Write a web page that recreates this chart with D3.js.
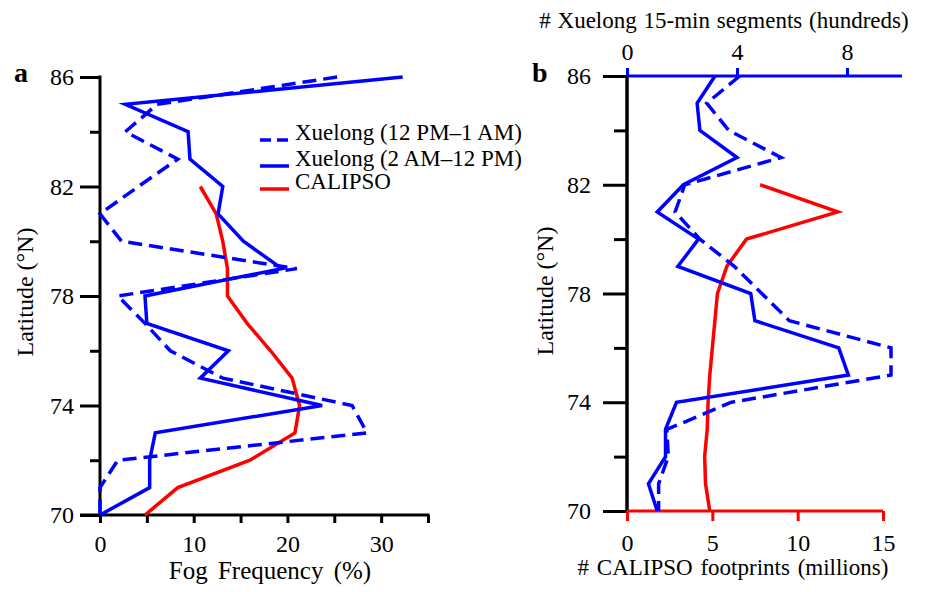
<!DOCTYPE html>
<html>
<head>
<meta charset="utf-8">
<script src="https://cdn.jsdelivr.net/npm/d3@7"></script>
<style>
  body { margin: 0; background: #fff; }
</style>
</head>
<body>
<div id="svg_container"></div>
<script>
/* -----------------------
data
------------------------- */

var lat = [86, 85, 84, 83, 82, 81, 80, 79, 78, 77, 76, 75, 74, 73, 72, 71, 70];

// panel a, fog frequency (%)
var fogNight = [25.3, 6.1, 2.7, 8.3, 4.1, 0, 2.3, 21.0, 1.9, 4.8, 7.5, 13.1, 26.9, 28.5, 1.9, 0, 0];
var fogDay = [32.3, 2.7, 9.4, 9.6, 13.1, 12.6, 15.3, 19.4, 4.8, 5.0, 13.7, 10.7, 23.7, 5.9, 5.3, 5.3, 0];
var calipsoLat = [82, 81, 80, 79, 78, 77, 76, 75, 74, 73, 72, 71, 70];
var fogCalipso = [10.7, 12.4, 13.1, 13.6, 13.6, 15.7, 18.2, 20.5, 21.3, 20.8, 16.0, 8.3, 4.8];

// panel b, sample counts
var segNight = [4.1, 2.9, 3.7, 5.6, 2.1, 1.75, 2.65, 3.9, 4.9, 5.9, 9.6, 9.6, 3.8, 1.45, 1.5, 1.15, 1.15]; // hundreds
var segDay = [3.2, 2.55, 2.65, 4.0, 2.05, 1.1, 2.6, 1.85, 4.5, 4.65, 7.7, 8.05, 1.8, 1.4, 1.4, 0.78, 1.1];
var footprints = [7.8, 12.35, 7.0, 5.85, 5.3, 5.15, 5.0, 4.85, 4.75, 4.7, 4.55, 4.6, 4.85]; // millions

var legendLabels = ["Xuelong (12 PM\u20131 AM)", "Xuelong (2 AM\u201312 PM)", "CALIPSO"];

var latMajor = [70, 74, 78, 82, 86];
var latMinor = [72, 76, 80, 84];
var fogTicks = [0, 5, 10, 15, 20, 25, 30, 35];
var segTicks = [0, 4, 8];
var fpTicks = [0, 5, 10, 15];

/* -----------------------
main variables
------------------------- */

var width = 931, height = 592;
var blue = "#0000ff", red = "#ff0000";
var lw = 3.5;
var serif = "'Liberation Serif', 'Times New Roman', Times, serif";

var svg = d3.select("#svg_container")
	.append("svg")
	.attr("width", width)
	.attr("height", height)
	.style("font-family", serif);

function zip(ys, xs) {
	return xs.map(function(v, i) { return {lat: ys[i], v: v}; });
}

function styleAxis(g, color, size) {
	g.attr("font-family", null);
	g.select(".domain").remove();
	g.selectAll("line").attr("stroke", color).attr("stroke-width", 3);
	g.selectAll("text").attr("font-size", size || 24).attr("fill", "#000")
		.style("font-family", serif);
}

function label(g, t) {
	return g.append("text").style("font-family", serif).attr("fill", "#000").text(t);
}

/* -----------------------
panel a
------------------------- */

var xA = d3.scaleLinear().domain([0, 35]).range([100, 428]);
var yA = d3.scaleLinear().domain([70, 86]).range([515, 77]);

var a = svg.append("g").attr("id", "panel_a");

a.append("g")
	.attr("transform", "translate(" + xA(0) + ",0)")
	.call(d3.axisLeft(yA).tickValues(latMajor).tickSize(20).tickPadding(6))
	.call(styleAxis, "#000");
a.append("g")
	.attr("transform", "translate(" + xA(0) + ",0)")
	.call(d3.axisLeft(yA).tickValues(latMinor).tickSize(10).tickFormat(""))
	.call(styleAxis, "#000");
a.append("g")
	.attr("transform", "translate(0," + yA(70) + ")")
	.call(d3.axisBottom(xA).tickValues(fogTicks).tickSize(8).tickPadding(12)
		.tickFormat(function(d) { return d % 10 === 0 ? d : ""; }))
	.call(styleAxis, "#000");

a.append("line")
	.attr("x1", xA(0)).attr("x2", xA(0))
	.attr("y1", yA(86) - 1.5).attr("y2", yA(70) + 1.5)
	.attr("stroke", "#000").attr("stroke-width", 3);
a.append("line")
	.attr("x1", xA(0) - 20).attr("x2", xA(35) + 1.5)
	.attr("y1", yA(70)).attr("y2", yA(70))
	.attr("stroke", "#000").attr("stroke-width", 3);

var lineA = d3.line().x(function(d) { return xA(d.v); }).y(function(d) { return yA(d.lat); });

a.append("path").datum(zip(calipsoLat, fogCalipso))
	.attr("d", lineA).attr("fill", "none").attr("stroke", red).attr("stroke-width", lw);
a.append("path").datum(zip(lat, fogDay))
	.attr("d", lineA).attr("fill", "none").attr("stroke", blue).attr("stroke-width", lw);
a.append("path").datum(zip(lat, fogNight))
	.attr("d", lineA).attr("fill", "none").attr("stroke", blue).attr("stroke-width", lw)
	.attr("stroke-dasharray", "14,7");

// legend
var legend = a.append("g").attr("class", "legend");
var legendY = [140, 166, 189];
legendLabels.forEach(function(t, i) {
	legend.append("line")
		.attr("x1", 260).attr("x2", 289)
		.attr("y1", legendY[i]).attr("y2", legendY[i])
		.attr("stroke", i === 2 ? red : blue).attr("stroke-width", lw)
		.attr("stroke-dasharray", i === 0 ? "11,6" : null);
	label(legend, t)
		.attr("x", 295).attr("y", legendY[i])
		.attr("font-size", 23);
});

label(a, "a").attr("x", 14).attr("y", 82)
	.attr("font-size", 28).attr("font-weight", "bold");
label(a, "Latitude (\u00b0N)")
	.attr("transform", "translate(33,292) rotate(-90)")
	.attr("text-anchor", "middle").attr("font-size", 24);
label(a, "Fog Frequency (%)").attr("x", 270).attr("y", 579)
	.attr("text-anchor", "middle").attr("font-size", 25).attr("word-spacing", 4);

/* -----------------------
panel b
------------------------- */

var yB = d3.scaleLinear().domain([70, 86]).range([511, 76]);
var xTop = d3.scaleLinear().domain([0, 10]).range([627, 902]);
var xBot = d3.scaleLinear().domain([0, 15]).range([627, 883]);

var b = svg.append("g").attr("id", "panel_b");

b.append("g")
	.attr("transform", "translate(" + xTop(0) + ",0)")
	.call(d3.axisLeft(yB).tickValues(latMajor).tickSize(24).tickPadding(12))
	.call(styleAxis, "#000");
b.append("g")
	.attr("transform", "translate(" + xTop(0) + ",0)")
	.call(d3.axisLeft(yB).tickValues(latMinor).tickSize(13).tickFormat(""))
	.call(styleAxis, "#000");
b.append("line")
	.attr("x1", xTop(0)).attr("x2", xTop(0))
	.attr("y1", yB(86)).attr("y2", yB(70))
	.attr("stroke", "#000").attr("stroke-width", 3.5);

b.append("g")
	.attr("transform", "translate(0," + yB(86) + ")")
	.call(d3.axisTop(xTop).tickValues(segTicks).tickSize(8).tickPadding(8))
	.call(styleAxis, blue);
b.append("line")
	.attr("x1", xTop(0)).attr("x2", xTop(10))
	.attr("y1", yB(86)).attr("y2", yB(86))
	.attr("stroke", blue).attr("stroke-width", 3);

b.append("g")
	.attr("transform", "translate(0," + yB(70) + ")")
	.call(d3.axisBottom(xBot).tickValues(fpTicks).tickSize(10).tickPadding(13))
	.call(styleAxis, red);
b.append("line")
	.attr("x1", xBot(0)).attr("x2", xBot(15))
	.attr("y1", yB(70)).attr("y2", yB(70))
	.attr("stroke", red).attr("stroke-width", 3);

var lineTop = d3.line().x(function(d) { return xTop(d.v); }).y(function(d) { return yB(d.lat); });
var lineBot = d3.line().x(function(d) { return xBot(d.v); }).y(function(d) { return yB(d.lat); });

b.append("path").datum(zip(calipsoLat, footprints))
	.attr("d", lineBot).attr("fill", "none").attr("stroke", red).attr("stroke-width", lw);
b.append("path").datum(zip(lat, segDay))
	.attr("d", lineTop).attr("fill", "none").attr("stroke", blue).attr("stroke-width", lw);
b.append("path").datum(zip(lat, segNight))
	.attr("d", lineTop).attr("fill", "none").attr("stroke", blue).attr("stroke-width", lw)
	.attr("stroke-dasharray", "14,7");

label(b, "b").attr("x", 532).attr("y", 82)
	.attr("font-size", 28).attr("font-weight", "bold");
label(b, "Latitude (\u00b0N)")
	.attr("transform", "translate(553,291) rotate(-90)")
	.attr("text-anchor", "middle").attr("font-size", 24);
label(b, "# CALIPSO footprints (millions)").attr("x", 733).attr("y", 575)
	.attr("text-anchor", "middle").attr("font-size", 23).attr("word-spacing", 2);
label(b, "# Xuelong 15-min segments (hundreds)").attr("x", 724).attr("y", 28)
	.attr("text-anchor", "middle").attr("font-size", 23).attr("word-spacing", 1);
</script>
</body>
</html>
